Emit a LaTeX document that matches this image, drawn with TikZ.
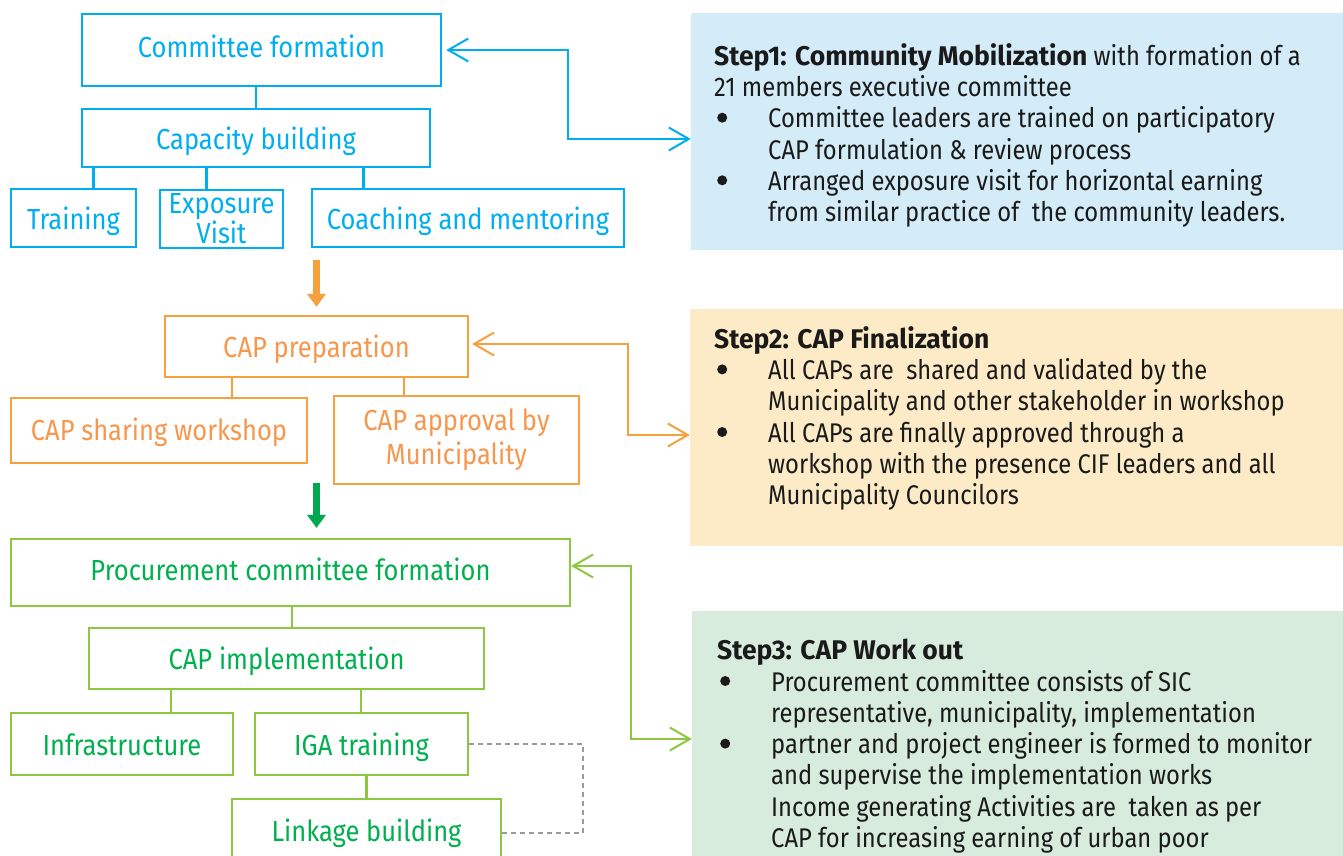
\documentclass[tikz,border=0pt]{standalone}
\usepackage{fontspec}
\setmainfont{Fira Sans}[FakeStretch=0.88,BoldFeatures={FakeStretch=0.98}]
\usetikzlibrary{arrows.meta,calc}
\definecolor{cifblue}{HTML}{00AEEF}
\definecolor{cifblueBg}{HTML}{D3ECF8}
\definecolor{giforange}{HTML}{F6A03E}
\definecolor{giforangeTxt}{HTML}{F7964C}
\definecolor{giforangeBg}{HTML}{FCEBC6}
\definecolor{cifgreen}{HTML}{8DC63F}
\definecolor{cifgreenTxt}{HTML}{00B04F}
\definecolor{cifgreenDk}{HTML}{00A651}
\definecolor{cifgreenBg}{HTML}{D8ECDD}
\definecolor{dashgray}{HTML}{9A9A9A}
\definecolor{bodytext}{HTML}{1A1A1A}
\newcommand{\stepbullet}{\makebox[54pt][l]{\hspace{3pt}\tikz[baseline=-10pt]\fill (0,0) circle (5pt);}}
\newcommand{\stepindent}{\hspace*{54pt}}

\begin{document}
\begin{tikzpicture}[x=1pt,y=-1pt,
  frame/.style={draw,line width=2.2pt,inner sep=0pt,align=center,text height=25pt,text depth=3pt,font=\fontsize{29}{30}\selectfont},
  twolines/.style={text height=,text depth=},
  blueframe/.style={frame,draw=cifblue,text=cifblue,line width=2.6pt},
  orangeframe/.style={frame,draw=giforange,text=giforangeTxt},
  greenframe/.style={frame,draw=cifgreen,text=cifgreenTxt},
  panel/.style={draw=none,inner sep=0pt},
  steptext/.style={anchor=north west,inner sep=0pt,align=left,text=bodytext,font=\fontsize{27}{31.3}\selectfont},
  link/.style={line width=2pt,{Straight Barb[length=20pt,width=23pt]}-{Straight Barb[length=20pt,width=23pt]}},
  flow/.style={line width=7pt,-{Triangle[length=13pt,width=18pt]}}]
\useasboundingbox (0,0) rectangle (1343,855);

% step panels
\node[panel,fill=cifblueBg,minimum width=652pt,minimum height=237pt] (step1) at (1017,131.5) {};
\node[panel,fill=giforangeBg,minimum width=653pt,minimum height=237pt] (step2) at (1016.5,427.5) {};
\node[panel,fill=cifgreenBg,minimum width=658pt,minimum height=254pt] (step3) at (1021,738) {};

\node[steptext] (txt1) at (714,43) {\textbf{Step1: Community Mobilization} with formation of a\\
21 members executive committee\\
\stepbullet Committee leaders are trained on participatory\\
\stepindent CAP formulation \& review process\\
\stepbullet Arranged exposure visit for horizontal earning\\
\stepindent from similar practice of\ \ the community leaders.};
\node[steptext] (txt2) at (714,326) {\textbf{Step2: CAP Finalization}\\
\stepbullet All CAPs are\ \ shared and validated by the\\
\stepindent Municipality and other stakeholder in workshop\\
\stepbullet All CAPs are finally approved through a\\
\stepindent workshop with the presence CIF leaders and all\\
\stepindent Municipality Councilors};
\node[steptext] (txt3) at (717,639) {\textbf{Step3: CAP Work out}\\
\stepbullet Procurement committee consists of SIC\\
\stepindent representative, municipality, implementation\\
\stepbullet partner and project engineer is formed to monitor\\
\stepindent and supervise the implementation works\\
\stepindent Income generating Activities are\ \ taken as per\\
\stepindent CAP for increasing earning of urban poor};

% step 1
\node[blueframe,minimum width=359pt,minimum height=72pt,text height=21pt,text depth=7pt] (cf) at (261.5,50) {Committee formation};
\node[blueframe,minimum width=348pt,minimum height=58pt] (cb) at (256,138) {Capacity building};
\node[blueframe,minimum width=125pt,minimum height=58pt] (tr) at (73.5,218) {Training};
\node[blueframe,twolines,minimum width=123pt,minimum height=58pt,font=\fontsize{29}{27}\selectfont] (ev) at (221.5,219) {Exposure\\Visit};
\node[blueframe,minimum width=312pt,minimum height=58pt] (cm) at (468,218) {Coaching and mentoring};
\draw[cifblue,line width=2.6pt] (cb.north) -- (cb.north |- cf.south);
\foreach \dx/\n in {13/tr,126/ev,283/cm}
  \draw[cifblue,line width=2.6pt] ([xshift=\dx pt]cb.south west) -- ([xshift=\dx pt]cb.south west |- \n.north);
\draw[link,cifblue,shorten <=4pt] (cf.east) -- ++(126,0) |- ([yshift=-7.5pt]step1.west);

% step 2
\node[orangeframe,minimum width=303pt,minimum height=61pt] (cp) at (316.5,346.5) {CAP preparation};
\node[orangeframe,minimum width=296pt,minimum height=65pt,text height=24pt,text depth=5pt] (cs) at (159,430.5) {CAP sharing workshop};
\node[orangeframe,twolines,minimum width=245pt,minimum height=88pt,font=\fontsize{29}{34}\selectfont] (ca) at (456.5,440) {CAP approval by\\Municipality};
\foreach \dx/\n in {68/cs,240/ca}
  \draw[giforange,line width=2.2pt] ([xshift=\dx pt]cp.south west) -- ([xshift=\dx pt]cp.south west |- \n.north);
\draw[link,giforange,shorten <=3pt] ([yshift=2.5pt]cp.east) -- ++(159,0) |- ([yshift=-7.5pt]step2.west);
\draw[flow,giforange] ([yshift=-12pt]cp.north |- cm.south) -- ([yshift=8pt]cp.north);

% step 3
\node[greenframe,minimum width=559pt,minimum height=67pt,text height=22pt,text depth=7pt] (pcf) at (290.5,572.5) {Procurement committee formation};
\node[greenframe,minimum width=395pt,minimum height=61pt] (ci) at (286.5,658.5) {CAP implementation};
\node[greenframe,minimum width=222pt,minimum height=62pt] (inf) at (122,744) {Infrastructure};
\node[greenframe,minimum width=213pt,minimum height=62pt] (ig) at (361.5,744) {IGA training};
\node[greenframe,minimum width=269pt,minimum height=64pt,text height=24pt,text depth=4pt] (lk) at (366.5,831) {Linkage building};
\draw[cifgreen,line width=2.2pt] ([xshift=5.5pt]ci.north) -- ([xshift=5.5pt]ci.north |- pcf.south);
\foreach \dx/\n in {83/inf,273/ig}
  \draw[cifgreen,line width=2.2pt] ([xshift=\dx pt]ci.south west) -- ([xshift=\dx pt]ci.south west |- \n.north);
\draw[cifgreen,line width=2.2pt] (lk.north) -- (lk.north |- ig.south);
\draw[dashgray,line width=1.3pt,dash pattern=on 5pt off 4pt] (ig.east) -- ++(114,0) |- ([yshift=-2pt]lk.east);
\draw[link,cifgreen] ([yshift=6.5pt]pcf.east) -- ++(60,0) |- ([yshift=-1pt]step3.west);
\draw[flow,cifgreenDk] ([yshift=2pt]cp.south |- ca.south) -- ([yshift=10pt]cp.south |- pcf.north);
\end{tikzpicture}
\end{document}
